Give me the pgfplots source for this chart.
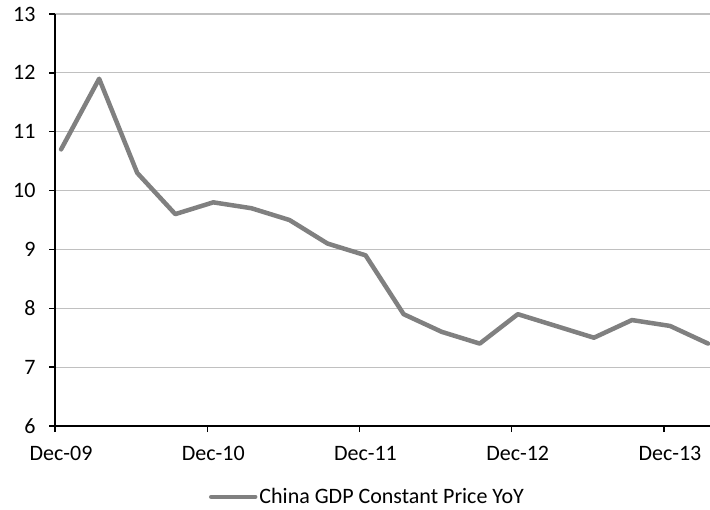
\documentclass[border=0pt]{standalone}
\usepackage{fontspec}
\setmainfont{Carlito}
\usepackage{pgfplots}
\pgfplotsset{compat=1.18}
\definecolor{linegray}{RGB}{128,128,128}
\definecolor{gridgray}{RGB}{192,192,192}
\newcommand\cf{\fontsize{22bp}{26bp}\selectfont}
\begin{document}
\begin{tikzpicture}
\useasboundingbox (-55bp,-84bp) rectangle (655bp,426bp);
\begin{axis}[
  at={(0,0)}, anchor=south west,
  scale only axis,
  width=655bp, height=412bp,
  xmin=-0.16, xmax=17.05,
  ymin=6, ymax=13,
  ytick={6,7,8,9,10,11,12,13},
  xtick={-0.16,3.84,7.84,11.84,15.84},
  xticklabels={Dec-09,Dec-10,Dec-11,Dec-12,Dec-13},
  axis x line*=bottom, axis y line*=left,
  axis line style={black, line width=1.3bp, -},
  tick align=outside,
  major tick length=6bp,
  tick style={black, line width=1.3bp},
  ymajorgrids, grid style={gridgray, line width=1.2bp},
  /pgf/number format/assume math mode=true,
  ticklabel style={font=\cf},
  xticklabel style={xshift=6bp, yshift=-11bp},
  yticklabel style={xshift=-10bp},
  legend style={at={(0.477,-0.172)}, anchor=center, draw=none, fill=none, font=\cf,
    legend cell align=left, inner sep=0pt},
  legend image code/.code={\draw[#1, line cap=round] (0bp,0bp) -- (44bp,0bp);},
  clip=false,
]
\addplot[color=linegray, line width=4.5bp, line join=round, line cap=round] coordinates {
(0,10.7) (1,11.9) (2,10.3) (3,9.6) (4,9.8) (5,9.7) (6,9.5) (7,9.1) (8,8.9)
(9,7.9) (10,7.6) (11,7.4) (12,7.9) (13,7.7) (14,7.5) (15,7.8) (16,7.7) (17,7.4)
};
\addlegendentry{China GDP Constant Price YoY}
\end{axis}
\end{tikzpicture}
\end{document}
